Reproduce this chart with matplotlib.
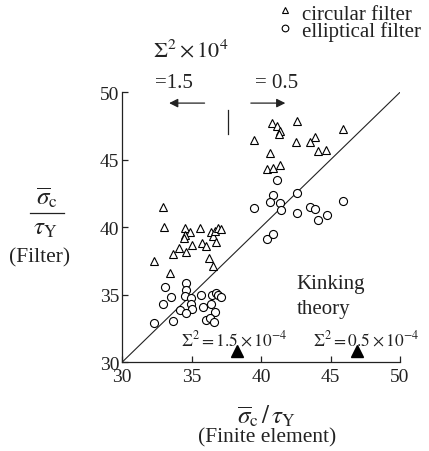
import matplotlib
matplotlib.use("Agg")
import matplotlib.pyplot as plt
from matplotlib.lines import Line2D

plt.rcParams['font.family'] = ['Liberation Serif', 'DejaVu Serif']
plt.rcParams['mathtext.fontset'] = 'stix'

# Circular filter (triangles): x = FE, y = filter
circ_x = [32.95, 33.0, 34.5, 34.86, 34.55, 34.43, 35.62, 36.41, 36.57, 36.71, 36.88, 37.09,
          35.02, 34.12, 34.64, 35.74, 36.05, 36.74, 33.66, 32.29, 36.29, 36.57, 33.43,
          40.81, 41.16, 41.36, 41.32, 42.61, 45.89, 39.5, 42.55, 43.91, 43.55, 44.09, 44.69,
          40.64, 40.43, 40.84, 41.36]
circ_y = [41.54, 40.0, 39.93, 39.63, 39.43, 39.23, 39.95, 39.63, 39.38, 39.70, 39.93, 39.87,
          38.69, 38.44, 38.15, 38.84, 38.59, 38.89, 38.02, 37.53, 37.70, 37.16, 36.58,
          47.75, 47.53, 47.13, 46.93, 47.90, 47.28, 46.48, 46.30, 46.71, 46.30, 45.67, 45.76,
          45.53, 44.34, 44.41, 44.61]
# Elliptical filter (circles)
ell_x = [33.07, 34.57, 34.57, 33.5, 34.5, 34.98, 34.98, 35.02, 34.16, 34.64, 35.69, 36.48,
         36.74, 36.88, 37.12, 32.95, 36.43, 35.82, 36.71, 32.32, 33.64, 36.02, 36.31, 36.61,
         41.16, 40.88, 40.66, 41.34, 41.41, 42.61, 39.5, 42.59, 43.55, 43.91, 44.07, 44.74,
         45.93, 40.45, 40.86]
ell_y = [35.56, 35.90, 35.38, 34.81, 34.91, 34.76, 34.32, 33.95, 33.87, 33.64, 34.99, 34.99,
         35.13, 34.99, 34.84, 34.32, 34.32, 34.12, 33.70, 32.90, 33.08, 33.17, 33.26, 33.02,
         43.48, 42.39, 41.91, 41.78, 41.30, 42.52, 41.43, 41.06, 41.53, 41.38, 40.56, 40.91,
         41.97, 39.13, 39.50]

theory_x = [30, 50]
theory_y = [30, 50]
xticks = [30, 35, 40, 45, 50]
yticks = [30, 35, 40, 45, 50]
kink_x = [38.25, 46.9]           # kinking theory predictions
kink_label_x = [38.1, 47.6]
kink_labels = [r'$\Sigma^2 = 1.5\times10^{-4}$', r'$\Sigma^2 = 0.5\times10^{-4}$']
legend_labels = ['circular filter', 'elliptical filter']

W, H = 429, 452
fig = plt.figure(figsize=(W / 100, H / 100), dpi=100)
ax = fig.add_axes([122 / W, 1 - 363.3 / H, 278 / W, 270 / H])

def fxy(px, py):
    return px / W, 1 - py / H

lc = '#222222'
ax.plot(theory_x, theory_y, color=lc, lw=0.8)
ax.plot(circ_x, circ_y, ls='none', marker='^', ms=5.6, mfc='white', mec='black', mew=0.8,
        clip_on=False)
ax.plot(ell_x, ell_y, ls='none', marker='o', ms=5.8, mfc='white', mec='black', mew=0.8,
        clip_on=False)

ax.set_xlim(30, 50)
ax.set_ylim(30, 50)
ax.set_xticks(xticks)
ax.set_yticks(yticks)
ax.tick_params(direction='in', length=4, width=0.9, labelsize=14, colors=lc)
ax.tick_params(axis='x', pad=4)
ax.tick_params(axis='y', pad=2)
for s in ['top', 'right']:
    ax.spines[s].set_visible(False)
for s in ['left', 'bottom']:
    ax.spines[s].set_linewidth(0.9)
    ax.spines[s].set_color(lc)

# kinking-theory markers and labels
for kx, tx, kl in zip(kink_x, kink_label_x, kink_labels):
    ax.plot([kx], [30.8], marker='^', ms=8.5, color='black', clip_on=False, ls='none')
    ax.text(tx, 31.28, kl, ha='center', va='baseline', fontsize=12.5, color=lc)

ax.text(42.57, 35.8, 'Kinking', ha='left', va='center', fontsize=15, color=lc)
ax.text(42.57, 33.95, 'theory', ha='left', va='center', fontsize=15, color=lc)

# top annotations
ax.plot([37.6, 37.6], [46.9, 48.7], color=lc, lw=0.9, clip_on=False)
ax.annotate('', xy=(33.19, 49.2), xytext=(36.14, 49.2),
            arrowprops=dict(arrowstyle='-|>', color=lc, lw=0.9, mutation_scale=13),
            annotation_clip=False)
ax.annotate('', xy=(41.95, 49.2), xytext=(39.07, 49.2),
            arrowprops=dict(arrowstyle='-|>', color=lc, lw=0.9, mutation_scale=13),
            annotation_clip=False)
fig.text(*fxy(153, 57), r'$\Sigma^2\times 10^4$', ha='left', va='baseline', fontsize=16, color=lc)
fig.text(*fxy(155, 83), '=1.5', ha='left', va='center', fontsize=15, color=lc)
fig.text(*fxy(255, 83), '= 0.5', ha='left', va='center', fontsize=15, color=lc)

# axis labels
fig.text(*fxy(267, 416), r'$\overline{\sigma}_{\mathrm{c}}\,/\,\tau_{\mathrm{Y}}$', ha='center',
         va='center', fontsize=18, color=lc)
fig.text(*fxy(267, 438), '(Finite element)', ha='center', va='center', fontsize=15.5, color=lc)
fig.text(*fxy(47, 198), r'$\overline{\sigma}_{\mathrm{c}}$', ha='center', va='center', fontsize=18, color=lc)
fig.add_artist(Line2D([30 / W, 64 / W], [1 - 214 / H, 1 - 214 / H], color=lc, lw=0.9))
fig.text(*fxy(45, 229), r'$\tau_{\mathrm{Y}}$', ha='center', va='center', fontsize=18, color=lc)
fig.text(*fxy(40, 258), '(Filter)', ha='center', va='center', fontsize=15.5, color=lc)

# legend (drawn manually)
for mk, lab, (mx, my), ty in zip(['^', 'o'], legend_labels, [(285, 11), (285, 29)], [20, 37]):
    fig.add_artist(Line2D([mx / W], [1 - my / H], marker=mk, ms=4.8, mfc='white', mec='black',
                          mew=0.8, ls='none'))
    fig.text(*fxy(302, ty), lab, ha='left', va='baseline', fontsize=15, color=lc)

fig.savefig('out.png', dpi=100)
